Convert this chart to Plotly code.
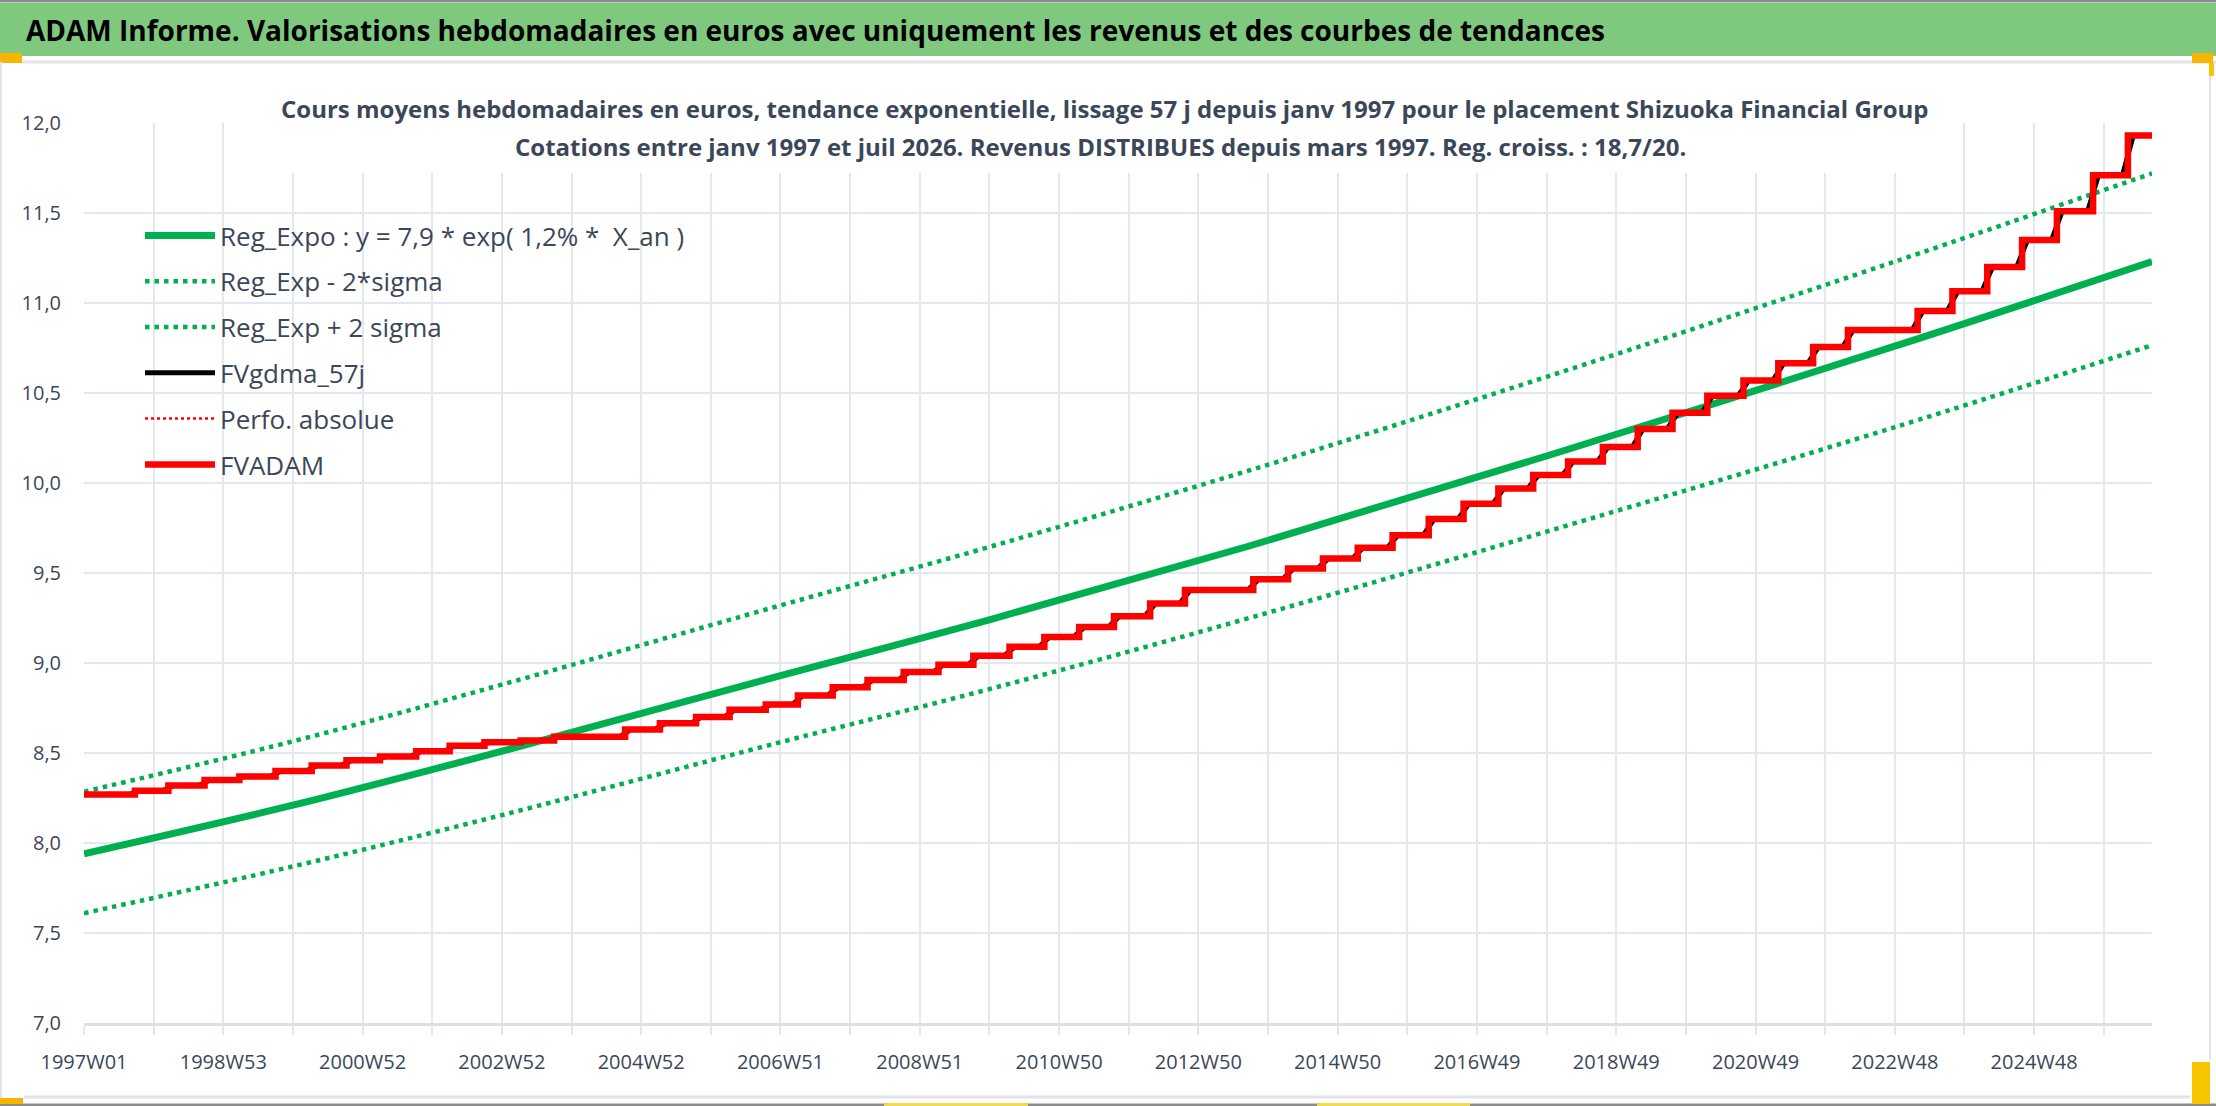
import plotly.graph_objects as go

# Taille de la page et marges de la zone de tracé (px)
W, H = 2216, 1106
L, R, T, B = 84, 64, 123, 83
PW, PH = W - L - R, H - T - B

FONT = "Open Sans"
TXT = "#3b4759"

# Axe x : index de semaine depuis 1997W01, une grille toutes les 52 semaines
grid_weeks = list(range(0, 1509, 52))
tick_labels = ['1997W01', '', '1998W53', '', '2000W52', '', '2002W52', '', '2004W52', '',
               '2006W51', '', '2008W51', '', '2010W50', '', '2012W50', '', '2014W50', '',
               '2016W49', '', '2018W49', '', '2020W49', '', '2022W48', '', '2024W48', '']
last_week = 1544

# Régression exponentielle et bandes +/- 2 sigma
reg_week = [0, 156, 312, 520, 676, 870, 1092, 1352, 1544]
reg_expo = [7.94, 8.21, 8.51, 8.93, 9.24, 9.65, 10.15, 10.76, 11.23]
reg_moins = [7.61, 7.87, 8.155, 8.56, 8.855, 9.25, 9.73, 10.31, 10.765]
reg_plus = [8.285, 8.565, 8.88, 9.32, 9.645, 10.07, 10.59, 11.23, 11.72]

# FVADAM : paliers à chaque distribution de revenus
step_week = [0, 38, 63, 90, 116, 143, 170, 196, 221, 248, 273, 299, 326, 351, 404, 430,
             457, 482, 509, 533, 559, 585, 612, 638, 664, 691, 717, 743, 769, 796, 822,
             873, 899, 925, 951, 977, 1004, 1030, 1056, 1082, 1108, 1134, 1160, 1186,
             1212, 1239, 1265, 1291, 1317, 1369, 1395, 1421, 1447, 1473, 1500, 1526]
fvadam = [8.27, 8.29, 8.32, 8.35, 8.37, 8.40, 8.43, 8.46, 8.48, 8.51, 8.54, 8.56, 8.57,
          8.59, 8.63, 8.665, 8.70, 8.74, 8.77, 8.82, 8.865, 8.905, 8.95, 8.99, 9.04, 9.09,
          9.145, 9.20, 9.26, 9.33, 9.405, 9.465, 9.525, 9.58, 9.64, 9.71, 9.80, 9.885,
          9.97, 10.045, 10.12, 10.20, 10.30, 10.39, 10.485, 10.57, 10.665, 10.755, 10.85,
          10.955, 11.065, 11.20, 11.35, 11.51, 11.71, 11.93]

fv_x = step_week + [last_week]
fv_y = fvadam + [fvadam[-1]]

# Lissage 57 j (~8 semaines) : rampe autour de chaque palier
gdma_x, gdma_y = [0], [fvadam[0]]
for i in range(1, len(step_week)):
    gdma_x += [step_week[i] - 4, step_week[i] + 4]
    gdma_y += [fvadam[i - 1], fvadam[i]]
gdma_x.append(last_week)
gdma_y.append(fvadam[-1])


def px(x):
    return (x - L) / PW


def py(y):
    return (H - B - y) / PH


VERT = "#00B050"
fig = go.Figure()
fig.add_trace(go.Scatter(x=reg_week, y=reg_expo, mode='lines', name='Reg_Expo : y = 7,9 * exp( 1,2% *  X_an )',
                         legendgroup='a', line=dict(color=VERT, width=7, shape='spline')))
fig.add_trace(go.Scatter(x=reg_week, y=reg_moins, mode='lines', name='Reg_Exp - 2*sigma',
                         legendgroup='b', line=dict(color=VERT, width=4.5, dash='4.5px,5px', shape='spline')))
fig.add_trace(go.Scatter(x=reg_week, y=reg_plus, mode='lines', name='Reg_Exp + 2 sigma',
                         legendgroup='c', line=dict(color=VERT, width=4.5, dash='4.5px,5px', shape='spline')))
fig.add_trace(go.Scatter(x=gdma_x, y=gdma_y, mode='lines', name='FVgdma_57j',
                         legendgroup='d', line=dict(color='black', width=5)))
fig.add_trace(go.Scatter(x=fv_x, y=fv_y, mode='lines', name='Perfo. absolue',
                         legendgroup='e', line=dict(color='#FF0000', width=2.5, dash='3px,3px', shape='hv')))
fig.add_trace(go.Scatter(x=fv_x, y=fv_y, mode='lines', name='FVADAM',
                         legendgroup='f', line=dict(color='#FF0000', width=6.5, shape='hv')))

shapes = [
    # bandeau vert du haut
    dict(type='rect', xref='paper', yref='paper', x0=px(0), x1=px(W), y0=py(56), y1=py(3),
         fillcolor='#7FC97F', line_width=0, layer='below'),
    dict(type='line', xref='paper', yref='paper', x0=px(0), x1=px(W), y0=py(1), y1=py(1),
         line=dict(color='#8c8c8c', width=3)),
    dict(type='line', xref='paper', yref='paper', x0=px(22), x1=px(W), y0=py(62), y1=py(62),
         line=dict(color='#e2e4e9', width=3)),
    dict(type='rect', xref='paper', yref='paper', x0=px(0), x1=px(22), y0=py(63), y1=py(53),
         fillcolor='#F7B500', line_width=0),
    dict(type='rect', xref='paper', yref='paper', x0=px(2192), x1=px(2213), y0=py(63), y1=py(53),
         fillcolor='#F7B500', line_width=0),
    dict(type='rect', xref='paper', yref='paper', x0=px(2209), x1=px(2214), y0=py(76), y1=py(63),
         fillcolor='#F7C400', line_width=0),
    dict(type='line', xref='paper', yref='paper', x0=px(2210), x1=px(2210), y0=py(1060), y1=py(76),
         line=dict(color='#e2e4e9', width=2)),
    dict(type='line', xref='paper', yref='paper', x0=px(1), x1=px(1), y0=py(1100), y1=py(62),
         line=dict(color='#e2e4e9', width=2)),
    # bas de page
    dict(type='line', xref='paper', yref='paper', x0=px(24), x1=px(2190), y0=py(1097), y1=py(1097),
         line=dict(color='#e2e4e9', width=3)),
    dict(type='line', xref='paper', yref='paper', x0=px(0), x1=px(W), y0=py(1105), y1=py(1105),
         line=dict(color='#8c8c8c', width=3)),
    dict(type='rect', xref='paper', yref='paper', x0=px(0), x1=px(23), y0=py(1104), y1=py(1098),
         fillcolor='#F7B500', line_width=0),
    dict(type='rect', xref='paper', yref='paper', x0=px(2192), x1=px(2210), y0=py(1104), y1=py(1062),
         fillcolor='#F7C400', line_width=0),
    dict(type='rect', xref='paper', yref='paper', x0=px(884), x1=px(1028), y0=py(1106), y1=py(1103),
         fillcolor='#EEDC55', line_width=0),
    dict(type='rect', xref='paper', yref='paper', x0=px(1317), x1=px(1470), y0=py(1106), y1=py(1103),
         fillcolor='#EEDC55', line_width=0),
    # fond blanc du titre du graphique
    dict(type='rect', xref='paper', yref='paper', x0=px(275), x1=px(1935), y0=py(173), y1=py(86),
         fillcolor='white', line_width=0, layer='above'),
]

annotations = [
    dict(text='<b>ADAM Informe. Valorisations hebdomadaires en euros avec uniquement les revenus et des courbes de tendances</b>',
         xref='paper', yref='paper', x=px(24), y=py(30), xanchor='left', yanchor='middle', showarrow=False,
         font=dict(family=FONT, size=28, color='black')),
    dict(text='<b>Cours moyens hebdomadaires en euros, tendance exponentielle, lissage 57 j depuis janv 1997 pour le placement Shizuoka Financial Group</b>',
         xref='paper', yref='paper', x=px(1104), y=py(108), xanchor='center', yanchor='middle', showarrow=False,
         font=dict(family=FONT, size=24, color=TXT)),
    dict(text='<b>Cotations entre janv 1997 et juil 2026. Revenus DISTRIBUES depuis mars 1997. Reg. croiss. : 18,7/20.</b>',
         xref='paper', yref='paper', x=px(1100), y=py(147), xanchor='center', yanchor='middle', showarrow=False,
         font=dict(family=FONT, size=24, color=TXT)),
]

fig.update_layout(
    width=W, height=H,
    margin=dict(l=L, r=R, t=T, b=B),
    paper_bgcolor='white', plot_bgcolor='white',
    separators=', ',
    font=dict(family=FONT, color=TXT),
    showlegend=True,
    legend=dict(x=px(140), y=py(212), xanchor='left', yanchor='top',
                bgcolor='rgba(0,0,0,0)', font=dict(family=FONT, size=26, color=TXT),
                itemwidth=70, tracegroupgap=9),
    shapes=shapes,
    annotations=annotations,
)
fig.update_xaxes(range=[0, last_week], tickmode='array', tickvals=grid_weeks, ticktext=tick_labels,
                 showgrid=True, gridcolor='#e4e7ed', gridwidth=1.5,
                 ticks='outside', ticklen=9, tickcolor='#e4e7ed', tickwidth=1.5,
                 showline=True, linecolor='#dcdfe6', linewidth=3, zeroline=False,
                 tickfont=dict(family=FONT, size=20, color=TXT), ticklabelstandoff=10)
fig.update_yaxes(range=[7, 12], dtick=0.5, tick0=7, tickformat='.1f',
                 showgrid=True, gridcolor='#e4e7ed', gridwidth=1.5, zeroline=False,
                 ticks='', tickfont=dict(family=FONT, size=20, color=TXT), ticklabelstandoff=22)

fig.write_html("out.html", config={'displayModeBar': False},
               post_script="document.body.style.margin='0';document.body.style.overflow='hidden';")
